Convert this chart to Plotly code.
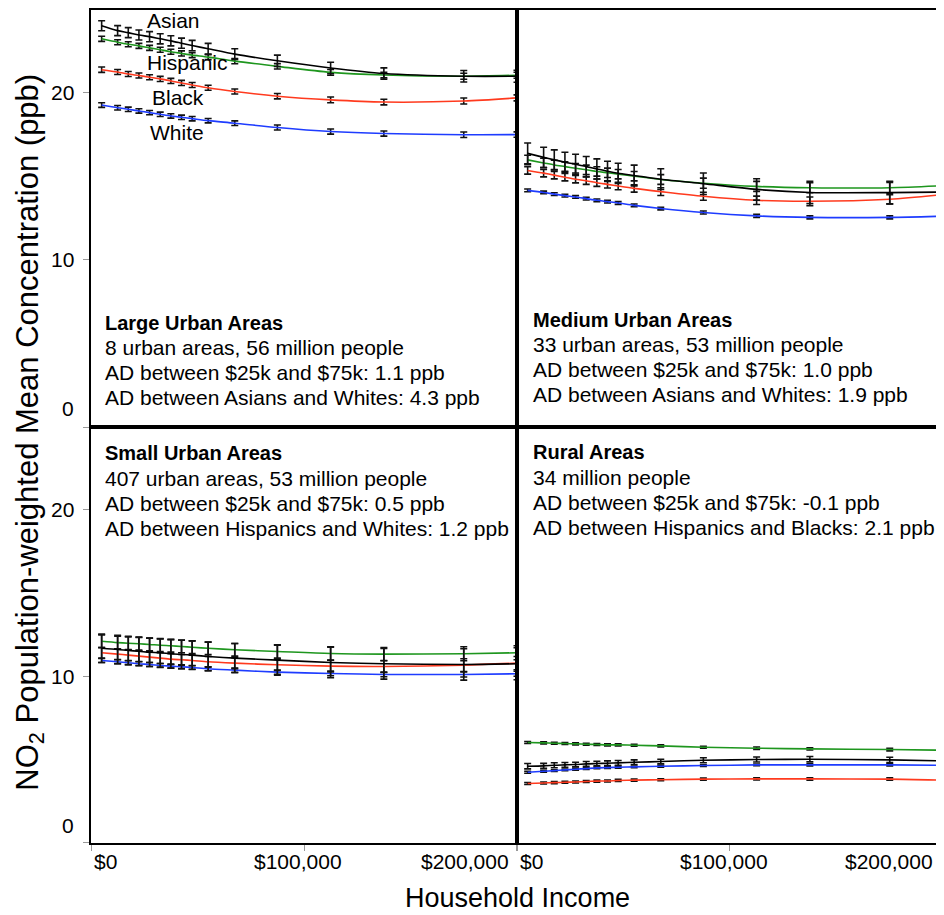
import plotly.graph_objects as go

# ---------------- data ----------------
income = [5000, 12500, 17500, 22500, 27500, 32500, 37500, 42500, 47500,
          55000, 67500, 87500, 112500, 137500, 175000, 200000]

groups = ["Asian", "Hispanic", "Black", "White"]
colors = {"Asian": "#000000", "Hispanic": "#1e961e", "Black": "#ff3a1e", "White": "#1e3cff"}

# Large urban areas
large_asian = [23.96, 23.67, 23.55, 23.41, 23.31, 23.18, 23.06, 22.92, 22.78, 22.59, 22.27, 21.87, 21.44, 21.11, 20.95, 20.95]
large_hispanic = [23.18, 22.98, 22.86, 22.76, 22.64, 22.53, 22.41, 22.31, 22.21, 22.09, 21.85, 21.54, 21.18, 21.02, 20.95, 21.01]
large_black = [21.34, 21.20, 21.08, 20.99, 20.89, 20.79, 20.67, 20.55, 20.43, 20.26, 20.04, 19.76, 19.54, 19.41, 19.47, 19.66]
large_white = [19.23, 19.07, 18.98, 18.88, 18.78, 18.68, 18.58, 18.50, 18.42, 18.30, 18.15, 17.89, 17.65, 17.53, 17.46, 17.47]
large_asian_err = [0.30, 0.30, 0.30, 0.30, 0.30, 0.30, 0.30, 0.30, 0.31, 0.32, 0.32, 0.34, 0.34, 0.34, 0.34, 0.36]
large_hispanic_err = [0.15, 0.15, 0.15, 0.15, 0.15, 0.15, 0.15, 0.15, 0.15, 0.15, 0.16, 0.16, 0.17, 0.17, 0.18, 0.18]
large_black_err = [0.16, 0.15, 0.15, 0.15, 0.15, 0.15, 0.15, 0.15, 0.15, 0.15, 0.15, 0.16, 0.17, 0.17, 0.18, 0.18]
large_white_err = [0.14, 0.13, 0.13, 0.13, 0.13, 0.13, 0.13, 0.13, 0.13, 0.13, 0.14, 0.15, 0.15, 0.15, 0.16, 0.16]

# Medium urban areas
medium_asian = [16.35, 16.11, 15.96, 15.82, 15.70, 15.56, 15.42, 15.28, 15.16, 15.03, 14.81, 14.54, 14.20, 14.02, 14.01, 14.04]
medium_hispanic = [15.96, 15.78, 15.66, 15.56, 15.46, 15.37, 15.27, 15.19, 15.11, 14.99, 14.79, 14.57, 14.38, 14.30, 14.30, 14.42]
medium_black = [15.33, 15.17, 15.05, 14.93, 14.81, 14.72, 14.60, 14.50, 14.40, 14.26, 14.07, 13.79, 13.55, 13.49, 13.61, 13.89]
medium_white = [14.14, 14.02, 13.92, 13.83, 13.75, 13.65, 13.55, 13.47, 13.39, 13.25, 13.06, 12.82, 12.62, 12.53, 12.53, 12.60]
medium_asian_err = [0.62, 0.60, 0.60, 0.60, 0.60, 0.60, 0.60, 0.60, 0.60, 0.62, 0.62, 0.64, 0.64, 0.66, 0.68, 0.70]
medium_hispanic_err = [0.28, 0.28, 0.28, 0.28, 0.28, 0.28, 0.28, 0.28, 0.28, 0.28, 0.29, 0.30, 0.30, 0.30, 0.32, 0.32]
medium_black_err = [0.22, 0.22, 0.22, 0.22, 0.22, 0.22, 0.22, 0.22, 0.22, 0.22, 0.23, 0.24, 0.25, 0.26, 0.27, 0.28]
medium_white_err = [0.08, 0.08, 0.08, 0.08, 0.08, 0.08, 0.08, 0.08, 0.08, 0.08, 0.08, 0.09, 0.09, 0.09, 0.09, 0.10]

# Small urban areas
small_asian = [11.67, 11.60, 11.54, 11.49, 11.43, 11.40, 11.34, 11.30, 11.26, 11.18, 11.08, 10.96, 10.82, 10.74, 10.70, 10.74]
small_hispanic = [12.09, 12.01, 11.97, 11.94, 11.90, 11.85, 11.82, 11.78, 11.73, 11.67, 11.58, 11.48, 11.36, 11.32, 11.34, 11.40]
small_black = [11.40, 11.32, 11.26, 11.20, 11.14, 11.08, 11.02, 10.98, 10.94, 10.86, 10.78, 10.68, 10.60, 10.58, 10.66, 10.78]
small_white = [10.94, 10.86, 10.80, 10.74, 10.70, 10.64, 10.60, 10.56, 10.52, 10.44, 10.36, 10.24, 10.16, 10.10, 10.10, 10.14]
small_asian_err = [0.85, 0.85, 0.85, 0.85, 0.85, 0.85, 0.85, 0.85, 0.85, 0.86, 0.88, 0.90, 0.92, 0.92, 0.94, 0.96]
small_hispanic_err = [0.38, 0.38, 0.38, 0.38, 0.38, 0.38, 0.38, 0.38, 0.38, 0.38, 0.38, 0.40, 0.40, 0.40, 0.42, 0.42]
small_black_err = [0.32, 0.32, 0.32, 0.32, 0.32, 0.32, 0.32, 0.32, 0.32, 0.32, 0.33, 0.34, 0.35, 0.36, 0.38, 0.40]
small_white_err = [0.12, 0.12, 0.12, 0.12, 0.12, 0.12, 0.12, 0.12, 0.12, 0.12, 0.13, 0.13, 0.14, 0.14, 0.15, 0.15]

# Rural areas
rural_asian = [4.60, 4.62, 4.66, 4.68, 4.70, 4.74, 4.76, 4.78, 4.80, 4.84, 4.88, 4.96, 5.00, 5.02, 4.98, 4.92]
rural_hispanic = [6.02, 6.00, 5.98, 5.96, 5.94, 5.92, 5.90, 5.88, 5.88, 5.86, 5.82, 5.74, 5.68, 5.64, 5.60, 5.56]
rural_black = [3.57, 3.60, 3.62, 3.64, 3.66, 3.69, 3.71, 3.72, 3.75, 3.77, 3.79, 3.83, 3.84, 3.84, 3.83, 3.77]
rural_white = [4.24, 4.30, 4.34, 4.38, 4.42, 4.46, 4.50, 4.52, 4.54, 4.56, 4.60, 4.64, 4.68, 4.68, 4.68, 4.66]
rural_asian_err = [0.16, 0.15, 0.15, 0.14, 0.14, 0.14, 0.14, 0.14, 0.14, 0.14, 0.14, 0.15, 0.15, 0.16, 0.16, 0.17]
rural_hispanic_err = [0.06, 0.06, 0.06, 0.06, 0.06, 0.06, 0.06, 0.06, 0.06, 0.06, 0.06, 0.06, 0.07, 0.07, 0.08, 0.08]
rural_black_err = [0.06, 0.06, 0.06, 0.06, 0.06, 0.06, 0.06, 0.06, 0.06, 0.06, 0.06, 0.06, 0.06, 0.07, 0.07, 0.08]
rural_white_err = [0.06, 0.05, 0.05, 0.05, 0.05, 0.05, 0.05, 0.05, 0.05, 0.05, 0.05, 0.05, 0.05, 0.06, 0.06, 0.06]

panel_titles = ["Large Urban Areas", "Medium Urban Areas", "Small Urban Areas", "Rural Areas"]
panel_lines = [
    ["8 urban areas, 56 million people", "AD between $25k and $75k: 1.1 ppb", "AD between Asians and Whites: 4.3 ppb"],
    ["33 urban areas, 53 million people", "AD between $25k and $75k: 1.0 ppb", "AD between Asians and Whites: 1.9 ppb"],
    ["407 urban areas, 53 million people", "AD between $25k and $75k: 0.5 ppb", "AD between Hispanics and Whites: 1.2 ppb"],
    ["34 million people", "AD between $25k and $75k: -0.1 ppb", "AD between Hispanics and Blacks: 2.1 ppb"],
]
y_label_ticks = [10, 20]
y_all_ticks = [0, 10, 20]
x_ticks = [0, 100000, 200000]
x_tick_labels = ["$0", "$100,000", "$200,000"]

panels = [
    {"Asian": (large_asian, large_asian_err), "Hispanic": (large_hispanic, large_hispanic_err),
     "Black": (large_black, large_black_err), "White": (large_white, large_white_err)},
    {"Asian": (medium_asian, medium_asian_err), "Hispanic": (medium_hispanic, medium_hispanic_err),
     "Black": (medium_black, medium_black_err), "White": (medium_white, medium_white_err)},
    {"Asian": (small_asian, small_asian_err), "Hispanic": (small_hispanic, small_hispanic_err),
     "Black": (small_black, small_black_err), "White": (small_white, small_white_err)},
    {"Asian": (rural_asian, rural_asian_err), "Hispanic": (rural_hispanic, rural_hispanic_err),
     "Black": (rural_black, rural_black_err), "White": (rural_white, rural_white_err)},
]

# ---------------- layout geometry ----------------
# The page body has an 8px margin, so the figure is 8px smaller and
# reference pixel positions are converted accordingly.
FONT = "Liberation Sans, Arial, Helvetica, sans-serif"
OFF = 8
FIG_W, FIG_H = 944 - OFF, 915 - OFF
REF_LEFT, REF_TOP, REF_BOTTOM, REF_MID_X, REF_MID_Y = 91, 9, 843, 518, 427
ML = REF_LEFT - OFF
MT = REF_TOP - OFF
MB = FIG_H - (REF_BOTTOM - OFF)
W = FIG_W - ML
H = FIG_H - MT - MB

def px(x):
    return (x - REF_LEFT) / W

def py(y):
    return (REF_BOTTOM - y) / H

left_w = REF_MID_X - REF_LEFT
split_x = left_w / W
split_y = (REF_BOTTOM - REF_MID_Y) / H
x_domains = [[0, split_x], [split_x, 1], [0, split_x], [split_x, 1]]
y_domains = [[split_y, 1], [split_y, 1], [0, split_y], [0, split_y]]
right_max = 200000 * (W - left_w) / left_w
x_ranges = [[0, 200000], [0, right_max], [0, 200000], [0, right_max]]
Y_TOP = 24.9

fig = go.Figure()
draw_order = ["White", "Black", "Hispanic", "Asian"]
for i, panel in enumerate(panels):
    xa = "x" if i == 0 else f"x{i+1}"
    ya = "y" if i == 0 else f"y{i+1}"
    for g in draw_order:
        vals, errs = panel[g]
        fig.add_trace(go.Scatter(
            x=income, y=vals, xaxis=xa, yaxis=ya, mode="lines",
            line=dict(color=colors[g], width=1.6, shape="spline", smoothing=0.8),
            error_y=dict(type="data", array=errs, visible=True, color="#111111",
                         thickness=1.6, width=3.5),
            cliponaxis=False, showlegend=False, name=g,
            hoverinfo="skip",
        ))

layout = dict(
    width=FIG_W, height=FIG_H,
    margin=dict(l=ML, r=0, t=MT, b=MB, pad=0),
    paper_bgcolor="white", plot_bgcolor="white",
    showlegend=False,
    font=dict(family=FONT, size=21, color="black"),
)
for i in range(4):
    xk = "xaxis" if i == 0 else f"xaxis{i+1}"
    yk = "yaxis" if i == 0 else f"yaxis{i+1}"
    ya = "y" if i == 0 else f"y{i+1}"
    xa = "x" if i == 0 else f"x{i+1}"
    bottom = i >= 2
    left = i % 2 == 0
    layout[xk] = dict(
        domain=x_domains[i], range=x_ranges[i], anchor=ya,
        showline=True, mirror=True, linecolor="black", linewidth=2,
        showgrid=False, zeroline=False,
        tickvals=x_ticks if bottom else [], ticks="outside" if bottom else "",
        ticklen=6, tickcolor="#999999", tickwidth=1,
        showticklabels=False,
    )
    yax = dict(
        domain=y_domains[i], range=[0, Y_TOP], anchor=xa,
        showline=True, mirror=True, linecolor="black", linewidth=2,
        showgrid=False, zeroline=False,
        tickfont=dict(family=FONT, size=21, color="black"),
    )
    if left:
        yax.update(tickvals=y_all_ticks, ticks="outside", ticklen=6,
                   tickcolor="#999999", tickwidth=1, showticklabels=False)
    else:
        yax.update(tickvals=[], ticks="", showticklabels=False)
    layout[yk] = yax
fig.update_layout(**layout)

ann = []
# y tick labels (the 0 label sits above its tick, as in the reference)
for ya in ("y", "y3"):
    for val in y_label_ticks:
        ann.append(dict(text=str(val), x=px(76), y=val, xref="paper", yref=ya,
                        xanchor="right", yanchor="middle", showarrow=False,
                        font=dict(family=FONT, size=21)))
for y0 in (408, 825):
    ann.append(dict(text="0", x=px(76), y=py(y0), xref="paper", yref="paper",
                    xanchor="right", yanchor="middle", showarrow=False,
                    font=dict(family=FONT, size=21)))

# x tick labels
for xa in ("x3", "x4"):
    for val, lab in zip(x_ticks, x_tick_labels):
        a = dict(text=lab, y=py(862), yref="paper", yanchor="middle",
                 showarrow=False, font=dict(family=FONT, size=21))
        if val == 0:
            a.update(x=val, xref=xa, xanchor="left", xshift=1)
        elif val == 200000 and xa == "x3":
            a.update(x=val, xref=xa, xanchor="right", xshift=-6)
        elif val == 200000:
            # beyond the visible end of the right panel: anchor on the panel edge
            a.update(x=px(937), xref="paper", xanchor="right")
        else:
            a.update(x=val, xref=xa, xanchor="center", xshift=-6)
        ann.append(a)

# panel texts
text_pos = [(103, 322), (532, 319), (103, 453), (532, 452)]
for (tx, ty), title, lines in zip(text_pos, panel_titles, panel_lines):
    ann.append(dict(text="<b>" + title + "</b>", x=px(tx), y=py(ty), xref="paper", yref="paper",
                    xanchor="left", yanchor="middle", showarrow=False,
                    font=dict(family=FONT, size=20)))
    for k, line in enumerate(lines):
        ann.append(dict(text=line, x=px(tx), y=py(ty + 25 * (k + 1)), xref="paper", yref="paper",
                        xanchor="left", yanchor="middle", showarrow=False,
                        font=dict(family=FONT, size=21)))

# group labels in the first panel
label_pos = {"Asian": (145, 20), "Hispanic": (145, 62), "Black": (150, 97), "White": (148, 132)}
for g in groups:
    lx, ly = label_pos[g]
    ann.append(dict(text=g, x=px(lx), y=py(ly), xref="paper", yref="paper",
                    xanchor="left", yanchor="middle", showarrow=False,
                    font=dict(family=FONT, size=21)))

# axis titles
ann.append(dict(text="NO<sub>2</sub> Population-weighted Mean Concentration (ppb)",
                x=px(OFF), y=py(432), xref="paper", yref="paper", textangle=-90,
                xanchor="left", yanchor="middle", showarrow=False,
                font=dict(family=FONT, size=31)))
ann.append(dict(text="Household Income", x=px(519), y=py(915), xref="paper", yref="paper",
                xanchor="center", yanchor="bottom", showarrow=False,
                font=dict(family=FONT, size=27)))

fig.update_layout(annotations=ann)
fig.write_html("out.html")
